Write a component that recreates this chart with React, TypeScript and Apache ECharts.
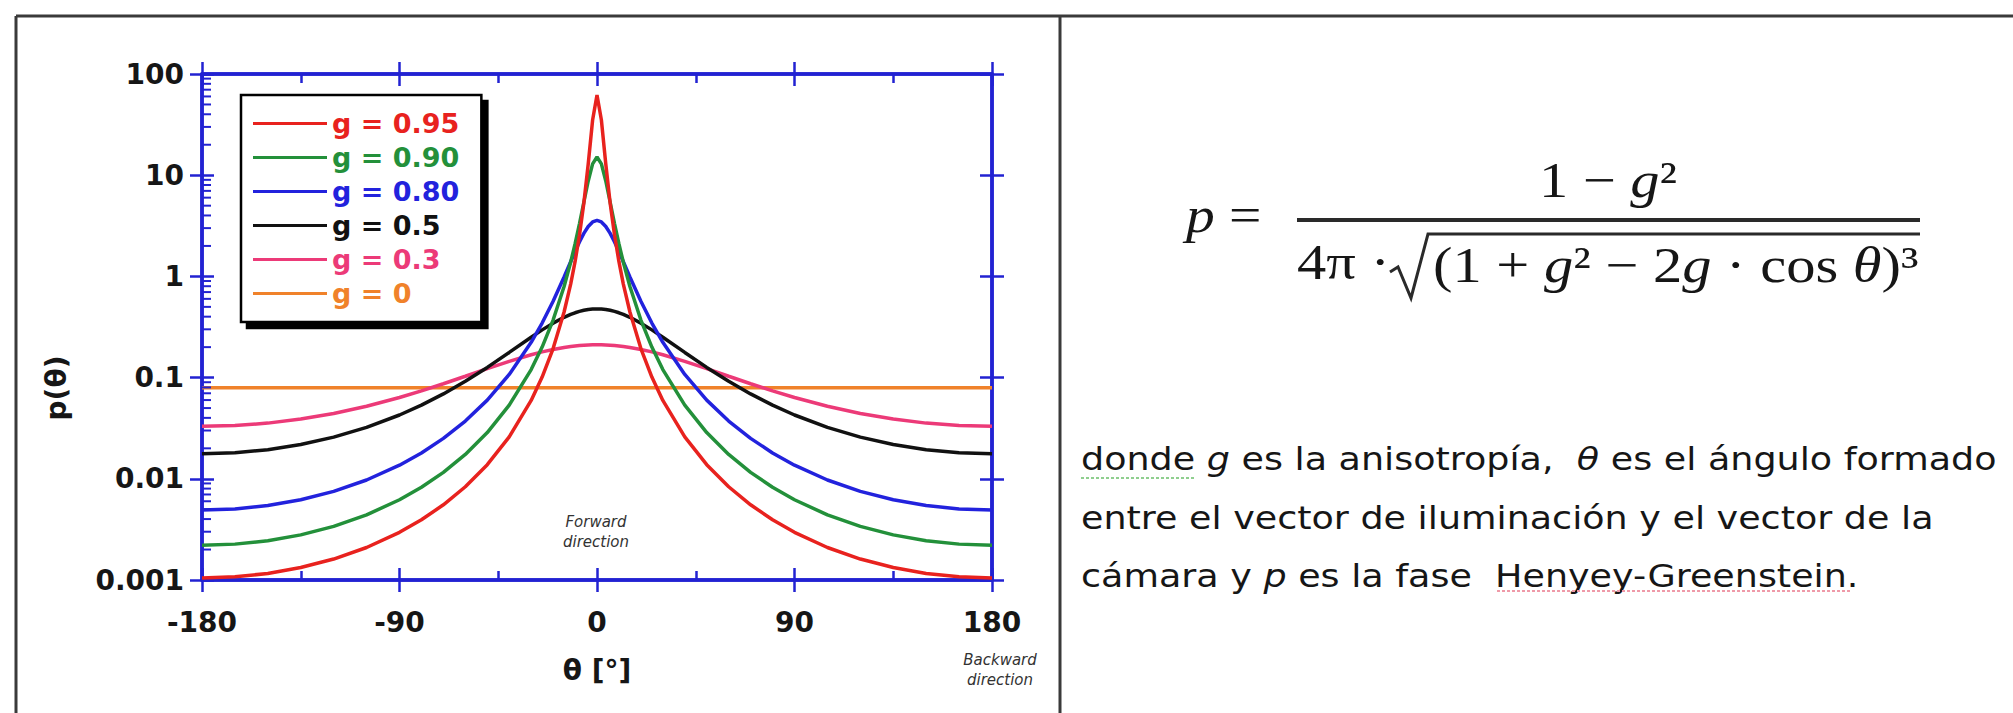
import React, { useEffect, useRef } from 'react';
import * as echarts from 'echarts';

// Scattering angle (degrees), one half of the symmetric curves; mirrored for negative angles
const THETA_HALF = [0, 2, 4, 6, 8, 10, 12, 15, 20, 25, 30, 40, 50, 60, 70, 80, 90, 105, 120, 135, 150, 165, 180];

// p(θ) values
const P_G095 = [62.07, 35.08, 12.89, 5.291, 2.551, 1.397, 0.840, 0.445, 0.1937, 0.1012, 0.0595, 0.02596, 0.0138, 0.008346, 0.005534, 0.003934, 0.002957, 0.002094, 0.001611, 0.001327, 0.001161, 0.001074, 0.001046];
const P_G090 = [15.12, 12.94, 8.763, 5.402, 3.312, 2.095, 1.38, 0.7936, 0.3704, 0.2002, 0.1201, 0.05341, 0.02865, 0.01742, 0.01158, 0.008251, 0.006209, 0.004404, 0.003389, 0.002793, 0.002445, 0.002262, 0.002204];
const P_G080 = [3.581, 3.454, 3.115, 2.66, 2.187, 1.757, 1.396, 0.9859, 0.5681, 0.3462, 0.2233, 0.1074, 0.0599, 0.03721, 0.02508, 0.01802, 0.01364, 0.009731, 0.007516, 0.006209, 0.005443, 0.005039, 0.004912];
const P_G050 = [0.4775, 0.4757, 0.4706, 0.4622, 0.4509, 0.437, 0.4211, 0.3942, 0.3453, 0.2962, 0.2508, 0.1773, 0.1261, 0.0919, 0.069, 0.0534, 0.0427, 0.0322, 0.0258, 0.0218, 0.0194, 0.0181, 0.0177];
const P_G030 = [0.2111, 0.2109, 0.2102, 0.209, 0.2074, 0.2054, 0.2029, 0.1986, 0.1897, 0.1794, 0.1681, 0.1447, 0.1225, 0.1031, 0.087, 0.074, 0.0636, 0.0521, 0.0442, 0.0389, 0.0355, 0.0336, 0.033];
const P_G000 = [0.0796, 0.0796, 0.0796, 0.0796, 0.0796, 0.0796, 0.0796, 0.0796, 0.0796, 0.0796, 0.0796, 0.0796, 0.0796, 0.0796, 0.0796, 0.0796, 0.0796, 0.0796, 0.0796, 0.0796, 0.0796, 0.0796, 0.0796];

const SERIES_NAMES = ['g = 0.95', 'g = 0.90', 'g = 0.80', 'g = 0.5', 'g = 0.3', 'g = 0'];
const SERIES_VALUES = [P_G095, P_G090, P_G080, P_G050, P_G030, P_G000];
const SERIES_COLORS = ['#e8221e', '#23903a', '#2222dd', '#111111', '#ec3a78', '#f0822a'];

// x axis ticks
const X_MIN = -180;
const X_MAX = 180;
const X_INTERVAL = 90;
// y axis (log)
const Y_MIN = 0.001;
const Y_MAX = 100;
const Y_MINOR_TICKS = [
  0.002, 0.003, 0.004, 0.005, 0.006, 0.007, 0.008, 0.009,
  0.02, 0.03, 0.04, 0.05, 0.06, 0.07, 0.08, 0.09,
  0.2, 0.3, 0.4, 0.5, 0.6, 0.7, 0.8, 0.9,
  2, 3, 4, 5, 6, 7, 8, 9,
  20, 30, 40, 50, 60, 70, 80, 90,
];

const AXIS_BLUE = '#2222d2';
const FONT = 'DejaVu Sans';
const SERIF = 'Liberation Serif';
const TEXT_DARK = '#161616';

function mirrored(values: number[]): number[][] {
  const pts: number[][] = [];
  for (let i = THETA_HALF.length - 1; i > 0; i--) pts.push([-THETA_HALF[i], values[i]]);
  for (let i = 0; i < THETA_HALF.length; i++) pts.push([THETA_HALF[i], values[i]]);
  return pts;
}

export default function App() {
  const ref = useRef<HTMLDivElement>(null);

  useEffect(() => {
    if (!ref.current) return;
    const chart = echarts.init(ref.current, undefined, { renderer: 'svg' });

    const axisLine = { show: true, onZero: false, lineStyle: { color: AXIS_BLUE, width: 3.5 } };
    const tickStyle = { color: AXIS_BLUE, width: 2.5 };
    const xBase: any = {
      type: 'value', min: X_MIN, max: X_MAX, interval: X_INTERVAL,
      splitLine: { show: false }, axisLine,
    };
    const yBase: any = {
      type: 'log', logBase: 10, min: Y_MIN, max: Y_MAX,
      splitLine: { show: false }, axisLine,
    };

    const lineSeries = SERIES_NAMES.map((name, i) => ({
      type: 'line',
      name,
      xAxisIndex: 0,
      yAxisIndex: 0,
      data: mirrored(SERIES_VALUES[i]),
      symbol: 'none',
      smooth: false,
      lineStyle: { color: SERIES_COLORS[i], width: 3.5 },
      itemStyle: { color: SERIES_COLORS[i] },
      z: 3,
    })).reverse();

    const minorTickSeries = {
      type: 'custom',
      name: 'yMinorTicks',
      xAxisIndex: 0,
      yAxisIndex: 0,
      silent: true,
      clip: false,
      data: Y_MINOR_TICKS.map((v) => [X_MIN, v]),
      renderItem: (params: any, api: any) => {
        const p = api.coord([api.value(0), api.value(1)]);
        return {
          type: 'line',
          shape: { x1: p[0], y1: p[1], x2: p[0] + 9, y2: p[1] },
          style: { stroke: AXIS_BLUE, lineWidth: 2 },
        };
      },
      z: 4,
    };

    const richItalicSans = { i: { fontStyle: 'italic', fontSize: 32, fontFamily: FONT, fill: TEXT_DARK, color: TEXT_DARK } };
    const richSerif = {
      i: { fontStyle: 'italic', fontSize: 50, fontFamily: SERIF, fill: TEXT_DARK, color: TEXT_DARK },
    };

    const labelFont = { fontSize: 28, fontWeight: 'bold', color: TEXT_DARK, fontFamily: FONT };

    const option: any = {
      animation: false,
      backgroundColor: '#ffffff',
      textStyle: { fontFamily: FONT },
      grid: { left: 202, right: 2013 - 992, top: 74, bottom: 713 - 580, containLabel: false, outerBoundsMode: 'none' },
      xAxis: [
        {
          ...xBase, position: 'bottom',
          axisTick: { show: true, inside: false, length: 12, lineStyle: tickStyle },
          axisLabel: { show: true, margin: 28, ...labelFont, showMinLabel: true, showMaxLabel: true },
          name: 'θ [°]', nameLocation: 'middle', nameGap: 76,
          nameTextStyle: { ...labelFont },
        },
        {
          ...xBase, position: 'bottom',
          axisTick: { show: true, inside: true, length: 12, lineStyle: tickStyle },
          minorTick: { show: true, splitNumber: 2, length: 9, lineStyle: tickStyle },
          axisLabel: { show: false },
        },
        {
          ...xBase, position: 'top',
          axisTick: { show: true, inside: false, length: 12, lineStyle: tickStyle },
          axisLabel: { show: false },
        },
        {
          ...xBase, position: 'top',
          axisTick: { show: true, inside: true, length: 12, lineStyle: tickStyle },
          minorTick: { show: true, splitNumber: 2, length: 9, lineStyle: tickStyle },
          axisLabel: { show: false },
        },
      ],
      yAxis: [
        {
          ...yBase, position: 'left',
          axisTick: { show: true, inside: false, length: 12, lineStyle: tickStyle },
          axisLabel: { show: true, margin: 18, ...labelFont },
        },
        {
          ...yBase, position: 'left',
          axisTick: { show: true, inside: true, length: 12, lineStyle: tickStyle },
          axisLabel: { show: false },
        },
        {
          ...yBase, position: 'right',
          axisTick: { show: true, inside: false, length: 12, lineStyle: tickStyle },
          axisLabel: { show: false },
        },
        {
          ...yBase, position: 'right',
          axisTick: { show: true, inside: true, length: 12, lineStyle: tickStyle },
          axisLabel: { show: false },
        },
      ],
      legend: {
        show: true,
        orient: 'vertical',
        left: 241,
        top: 95,
        data: SERIES_NAMES.map((n, i) => ({ name: n, textStyle: { color: SERIES_COLORS[i] } })),
        icon: 'rect',
        itemWidth: 74,
        itemHeight: 3,
        itemGap: 7,
        padding: [15, 22, 15, 12],
        backgroundColor: '#ffffff',
        borderColor: '#000000',
        borderWidth: 2.5,
        shadowColor: '#000000',
        shadowOffsetX: 6,
        shadowOffsetY: 6,
        shadowBlur: 0,
        selectedMode: false,
        textStyle: { fontSize: 27, fontWeight: 'bold', fontFamily: FONT },
      },
      series: [...lineSeries, minorTickSeries],
      graphic: [
        // table frame
        { type: 'line', shape: { x1: 16, y1: 16, x2: 2013, y2: 16 }, style: { stroke: '#3a3a3a', lineWidth: 3 } },
        { type: 'line', shape: { x1: 16, y1: 16, x2: 16, y2: 713 }, style: { stroke: '#3a3a3a', lineWidth: 3 } },
        { type: 'line', shape: { x1: 1060, y1: 16, x2: 1060, y2: 713 }, style: { stroke: '#3a3a3a', lineWidth: 3 } },
        // y axis title
        {
          type: 'text', x: 56, y: 388, rotation: Math.PI / 2,
          style: { text: 'p(θ)', fontSize: 28, fontWeight: 'bold', fontFamily: FONT, fill: TEXT_DARK, align: 'center', verticalAlign: 'middle' },
        },
        // annotations
        {
          type: 'text', x: 596, y: 522,
          style: { text: 'Forward', fontSize: 15, fontStyle: 'italic', fontFamily: FONT, fill: '#333', align: 'center', verticalAlign: 'middle' },
        },
        {
          type: 'text', x: 596, y: 542,
          style: { text: 'direction', fontSize: 15, fontStyle: 'italic', fontFamily: FONT, fill: '#333', align: 'center', verticalAlign: 'middle' },
        },
        {
          type: 'text', x: 1000, y: 660,
          style: { text: 'Backward', fontSize: 15, fontStyle: 'italic', fontFamily: FONT, fill: '#333', align: 'center', verticalAlign: 'middle' },
        },
        {
          type: 'text', x: 1000, y: 680,
          style: { text: 'direction', fontSize: 15, fontStyle: 'italic', fontFamily: FONT, fill: '#333', align: 'center', verticalAlign: 'middle' },
        },
        // formula
        {
          type: 'text', x: 1186, y: 215, scaleX: 1.15,
          style: { text: '{i|p} =', rich: richSerif, fontSize: 50, fontFamily: SERIF, fill: TEXT_DARK, align: 'left', verticalAlign: 'middle' },
        },
        {
          type: 'text', x: 1608, y: 180, scaleX: 1.17,
          style: { text: '1 − {i|g}²', rich: richSerif, fontSize: 50, fontFamily: SERIF, fill: TEXT_DARK, align: 'center', verticalAlign: 'middle' },
        },
        { type: 'line', shape: { x1: 1297, y1: 220, x2: 1920, y2: 220 }, style: { stroke: '#2a2a2a', lineWidth: 4 } },
        {
          type: 'text', x: 1297, y: 262, scaleX: 1.17,
          style: { text: '4π ·', fontSize: 50, fontFamily: SERIF, fill: TEXT_DARK, align: 'left', verticalAlign: 'middle' },
        },
        {
          type: 'polyline',
          shape: { points: [[1390, 272], [1398, 267], [1411, 298], [1428, 234], [1920, 234]] },
          style: { stroke: '#2a2a2a', lineWidth: 3, fill: null },
        },
        {
          type: 'text', x: 1433, y: 265, scaleX: 1.17,
          style: { text: '(1 + {i|g}² − 2{i|g} · cos {i|θ})³', rich: richSerif, fontSize: 50, fontFamily: SERIF, fill: TEXT_DARK, align: 'left', verticalAlign: 'middle' },
        },
        // description
        {
          type: 'text', x: 1081, y: 459, scaleX: 1.14,
          style: { text: 'donde {i|g} es la anisotropía,  {i|θ} es el ángulo formado', rich: richItalicSans, fontSize: 32, fontFamily: FONT, fill: TEXT_DARK, align: 'left', verticalAlign: 'middle' },
        },
        {
          type: 'text', x: 1081, y: 518, scaleX: 1.14,
          style: { text: 'entre el vector de iluminación y el vector de la', fontSize: 32, fontFamily: FONT, fill: TEXT_DARK, align: 'left', verticalAlign: 'middle' },
        },
        {
          type: 'text', x: 1081, y: 576, scaleX: 1.14,
          style: { text: 'cámara y {i|p} es la fase  Henyey-Greenstein.', rich: richItalicSans, fontSize: 32, fontFamily: FONT, fill: TEXT_DARK, align: 'left', verticalAlign: 'middle' },
        },
        // spell-check underlines
        { type: 'line', shape: { x1: 1081, y1: 478, x2: 1196, y2: 478 }, style: { stroke: '#8fcf8f', lineWidth: 2, lineDash: [3, 2] } },
        { type: 'line', shape: { x1: 1497, y1: 591, x2: 1852, y2: 591 }, style: { stroke: '#ef9aa8', lineWidth: 2, lineDash: [3, 2] } },
      ],
    };

    chart.setOption(option);
    return () => {
      chart.dispose();
    };
  }, []);

  return (
    <div
      ref={ref}
      style={{ position: 'absolute', left: 0, top: 0, width: 2013, height: 713, background: '#fff' }}
    />
  );
}
